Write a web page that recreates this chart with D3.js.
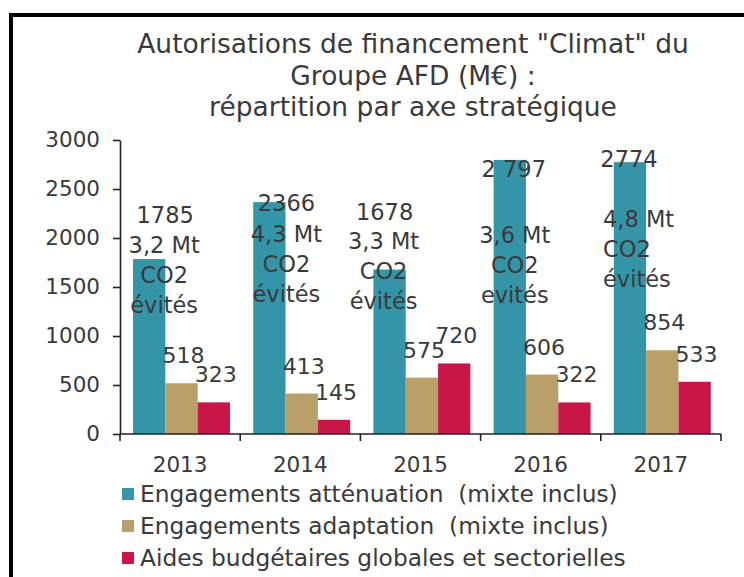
<!DOCTYPE html>
<html>
<head>
<meta charset="utf-8">
<script src="https://cdn.jsdelivr.net/npm/d3@7"></script>
<style>
  body { margin: 0; background: #fff; }
  text { font-family: "DejaVu Sans", sans-serif; fill: #3a3a3a; }
</style>
</head>
<body>
<svg id="chart"></svg>
<script>
const years = ["2013", "2014", "2015", "2016", "2017"];
const series = ["Engagements atténuation  (mixte inclus)", "Engagements adaptation  (mixte inclus)", "Aides budgétaires globales et sectorielles"];
const attenuation = [1785, 2366, 1678, 2797, 2774];
const adaptation = [518, 413, 575, 606, 854];
const aides = [323, 145, 720, 322, 533];
const attenuationLabels = ["1785", "2366", "1678", "2 797", "2774"];
const co2Labels = ["3,2 Mt", "4,3 Mt", "3,3 Mt", "3,6 Mt", "4,8 Mt"];
const yTicks = [0, 500, 1000, 1500, 2000, 2500, 3000];
const titleLines = ["Autorisations de financement \"Climat\" du", "Groupe AFD (M€) :", "répartition par axe stratégique"];
const colors = ["#3595a8", "#b9a068", "#c81648"];

// hand placed labels on the teal bars (offsets from bar centre / bar top, px)
const placement = [
  {vx: 16, vy: -36, bx: 15, by: -6, anchor: "middle"},
  {vx: 17, vy: 9, bx: 17, by: 40, anchor: "middle"},
  {vx: -5, vy: -50, bx: -6, by: -21, anchor: "middle"},
  {vx: 4, vy: 17, bx: 5, by: 83, anchor: "middle"},
  {vx: -1, vy: 5, bx: -27, by: 65, anchor: "start"}
];

const W = 744, H = 577;
const svg = d3.select("#chart").attr("width", W).attr("height", H);

svg.append("rect").attr("width", W).attr("height", H).attr("fill", "#fff");

// frame
svg.append("path")
  .attr("d", `M 11 ${H} V 15 H ${W}`)
  .attr("fill", "none").attr("stroke", "#000").attr("stroke-width", 4);

// title
svg.append("g").selectAll("text").data(titleLines).join("text")
  .attr("x", 413).attr("y", (d, i) => 53 + i * 31.5)
  .attr("text-anchor", "middle")
  .style("font-size", "26.5px")
  .text(d => d);

const x0 = d3.scaleBand().domain(years).range([120, 721]).padding(0);
const x1 = d3.scaleBand().domain(d3.range(3)).range([0, x0.bandwidth()])
  .paddingInner(0).paddingOuter(0.36).align(0.56);
const y = d3.scaleLinear().domain([0, 3000]).range([434, 140]);

const values = [attenuation, adaptation, aides];

// bars
const groups = svg.append("g").selectAll("g").data(years).join("g")
  .attr("transform", d => `translate(${x0(d)},0)`);

groups.selectAll("rect").data((d, i) => values.map((s, k) => ({k, v: s[i]}))).join("rect")
  .attr("x", d => x1(d.k))
  .attr("y", d => y(d.v))
  .attr("width", x1.bandwidth())
  .attr("height", d => y(0) - y(d.v))
  .attr("fill", d => colors[d.k]);

// axes
const yAxis = svg.append("g").attr("transform", "translate(120,0)")
  .call(d3.axisLeft(y).tickValues(yTicks).tickFormat(d3.format("d"))
    .tickSize(7).tickSizeOuter(0).tickPadding(13));
yAxis.selectAll("text").style("font-size", "21.5px").attr("fill", "#3a3a3a");
yAxis.selectAll("line, path").attr("stroke", "#222").attr("stroke-width", 1.6);

svg.append("line").attr("x1", 120).attr("x2", 721).attr("y1", y(0)).attr("y2", y(0))
  .attr("stroke", "#222").attr("stroke-width", 1.6);

const bounds = years.map(d => x0(d)).concat([x0(years[years.length - 1]) + x0.bandwidth()]);
svg.append("g").selectAll("line").data(bounds).join("line")
  .attr("x1", d => d).attr("x2", d => d)
  .attr("y1", y(0)).attr("y2", y(0) + 7)
  .attr("stroke", "#222").attr("stroke-width", 1.6);

svg.append("g").selectAll("text").data(years).join("text")
  .attr("x", d => x0(d) + x0.bandwidth() / 2)
  .attr("y", 472)
  .attr("text-anchor", "middle")
  .style("font-size", "21.5px")
  .text(d => d);

// value labels on the small bars
const lab = svg.append("g").style("font-size", "22px");
[adaptation, aides].forEach((s, j) => {
  lab.selectAll(null).data(s).join("text")
    .attr("x", (d, i) => x0(years[i]) + x1(j + 1) + x1.bandwidth() / 2 + 2)
    .attr("y", d => y(d) - 20)
    .attr("text-anchor", "middle")
    .text(d => d);
});

// teal bar labels
attenuation.forEach((v, i) => {
  const cx = x0(years[i]) + x1(0) + x1.bandwidth() / 2;
  const top = y(v);
  const p = placement[i];
  lab.append("text")
    .attr("x", cx + p.vx).attr("y", top + p.vy)
    .attr("text-anchor", "middle")
    .style("font-size", "22.5px")
    .text(attenuationLabels[i]);
  const block = [co2Labels[i], "CO2", i === 3 ? "evités" : "évités"];
  lab.append("g").selectAll("text").data(block).join("text")
    .attr("x", cx + p.bx)
    .attr("y", (d, k) => top + p.by + k * 30)
    .attr("text-anchor", p.anchor)
    .style("font-size", "22.5px")
    .text(d => d);
});

// legend
const leg = svg.append("g").selectAll("g").data(series).join("g")
  .attr("transform", (d, i) => `translate(122,${502 + i * 32})`);
leg.append("rect").attr("x", 0).attr("y", -14).attr("width", 12).attr("height", 12)
  .attr("fill", (d, i) => colors[i]);
leg.append("text").attr("x", 18).attr("y", 0)
  .style("font-size", "23.3px").style("white-space", "pre")
  .text(d => d);
</script>
</body>
</html>
